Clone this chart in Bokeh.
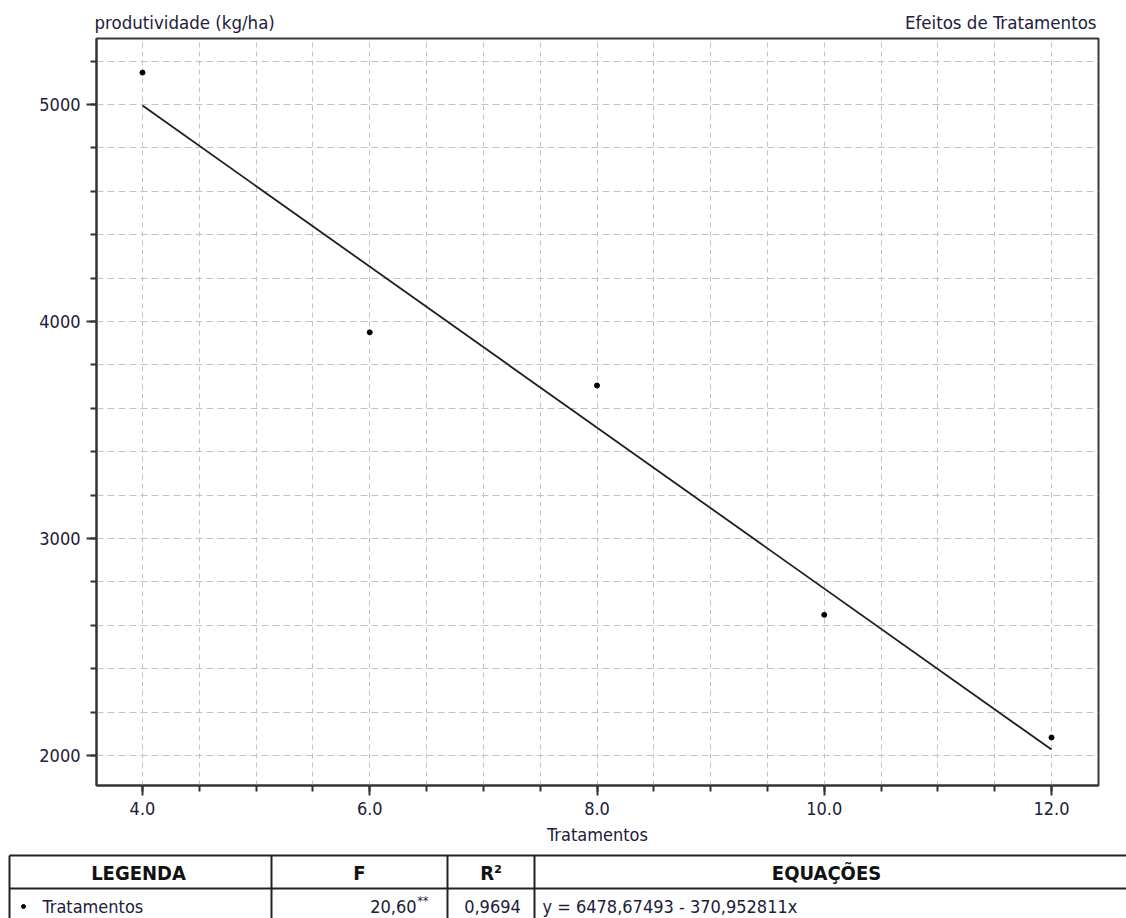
from bokeh.plotting import figure
from bokeh.layouts import column
from bokeh.models import Range1d, SingleIntervalTicker, PrintfTickFormatter, BasicTickFormatter
from bokeh.embed import file_html
from bokeh.resources import INLINE
from bokeh.core.properties import value

# ---- data ----
tratamentos = [4, 6, 8, 10, 12]
produtividade = [5147, 3950, 3705, 2648, 2083]
intercepto = 6478.67493
inclinacao = -370.952811
F_valor = "20,60"
signif = "**"
R2_valor = "0,9694"
equacao = "y = 6478,67493 - 370,952811x"
y_titulo = "produtividade (kg/ha)"
titulo = "Efeitos de Tratamentos"
x_titulo = "Tratamentos"
cabecalho = ["LEGENDA", "F", "R²", "EQUAÇÕES"]
serie = "Tratamentos"

FONT = "DejaVu Sans Condensed"
TXT = "#20203a"
W = 1126
HH = 36          # header strip height
TOP_T = 852      # page y where table strip starts
TH = 918 - TOP_T
PH = TOP_T - HH  # main plot height
FL, FR, FT, FB = 96, 1098, 38, 785          # frame edges (page px)


def strip(height):
    f = figure(width=W, height=height, x_range=Range1d(0, W), y_range=Range1d(height, 0),
               x_axis_type=None, y_axis_type=None, toolbar_location=None,
               output_backend="svg", min_border=0, outline_line_color=None, frame_align=False)
    f.grid.visible = False
    return f


# ---- header strip ----
h = strip(HH)
h.text(x=[94], y=[22], text=[y_titulo], text_font=value(FONT), text_font_size="18.5px",
       text_color=TXT, text_align="left", text_baseline="middle")
h.text(x=[1096], y=[22], text=[titulo], text_font=value(FONT), text_font_size="18.5px",
       text_color=TXT, text_align="right", text_baseline="middle")

# ---- main chart ----
p = figure(width=W, height=PH, x_range=Range1d(3.5952, 12.4136), y_range=Range1d(1861.7, 5304.1),
           toolbar_location=None, output_backend="svg", frame_align=False,
           min_border_left=FL, min_border_right=W - FR, min_border_top=FT - HH,
           min_border_bottom=TOP_T - FB)
p.outline_line_color = "#3a3a3a"
p.outline_line_width = 2

p.xaxis.ticker = SingleIntervalTicker(interval=2, num_minor_ticks=4)
p.yaxis.ticker = SingleIntervalTicker(interval=1000, num_minor_ticks=5)
p.xaxis.formatter = PrintfTickFormatter(format="%.1f")
p.yaxis.formatter = BasicTickFormatter(use_scientific=False)
for ax in (p.xaxis, p.yaxis):
    ax.axis_line_width = 2
    ax.axis_line_color = "#333333"
    ax.major_tick_in = 0
    ax.minor_tick_in = 0
    ax.major_tick_out = 10
    ax.minor_tick_out = 6
    ax.major_tick_line_width = 2
    ax.minor_tick_line_width = 2
    ax.major_tick_line_color = "#333333"
    ax.minor_tick_line_color = "#333333"
    ax.major_label_text_font = FONT
    ax.major_label_text_font_size = "18px"
    ax.major_label_text_color = TXT
p.xaxis.major_label_standoff = 6
p.yaxis.major_label_standoff = 6
p.xaxis.axis_label = x_titulo
p.xaxis.axis_label_text_font = FONT
p.xaxis.axis_label_text_font_size = "18px"
p.xaxis.axis_label_text_font_style = "normal"
p.xaxis.axis_label_text_color = TXT
p.xaxis.axis_label_standoff = 6

p.xgrid.ticker = SingleIntervalTicker(interval=0.5)
p.ygrid.ticker = SingleIntervalTicker(interval=200)
p.xgrid.grid_line_color = "#c2c2c2"
p.ygrid.grid_line_color = "#c2c2c2"
p.xgrid.grid_line_dash = "5 4"
p.ygrid.grid_line_dash = "7 4"

xr = [tratamentos[0], tratamentos[-1]]
yr = [intercepto + inclinacao * v for v in xr]
p.line(xr, yr, line_color="#1e1e1e", line_width=1.8)
p.scatter(tratamentos, produtividade, marker="circle", size=5, color="#000000")

# ---- table strip ----
t = strip(TH)


def ty(py):
    return py - TOP_T


t.segment(x0=[9, 9], y0=[ty(855), ty(888)], x1=[W, W], y1=[ty(855), ty(888)],
          line_color="#222222", line_width=2)
vx = [9, 271, 447, 534]
t.segment(x0=vx, y0=[ty(855)] * 4, x1=vx, y1=[TH + 5] * 4, line_color="#222222", line_width=2)
t.text(x=[138, 359, 490.5, 826], y=[ty(872)] * 4, text=cabecalho, text_font=value(FONT),
       text_font_size="20px", text_font_style="bold", text_color="#111111",
       text_align="center", text_baseline="middle")
t.scatter(x=[23], y=[ty(906)], marker="circle", size=4, color="#000000")
t.text(x=[42], y=[ty(906)], text=[serie], text_font=value(FONT), text_font_size="18px",
       text_color=TXT, text_align="left", text_baseline="middle")
t.text(x=[416], y=[ty(906)], text=[F_valor], text_font=value(FONT), text_font_size="18px",
       text_color=TXT, text_align="right", text_baseline="middle")
t.text(x=[417], y=[ty(900)], text=[signif], text_font=value(FONT), text_font_size="12px",
       text_color=TXT, text_align="left", text_baseline="middle")
t.text(x=[492], y=[ty(906)], text=[R2_valor], text_font=value(FONT), text_font_size="18px",
       text_color=TXT, text_align="center", text_baseline="middle")
t.text(x=[542], y=[ty(906)], text=[equacao], text_font=value(FONT), text_font_size="18px",
       text_color=TXT, text_align="left", text_baseline="middle")

layout = column(h, p, t, spacing=0)
open("out.html", "w").write(file_html(layout, INLINE))
